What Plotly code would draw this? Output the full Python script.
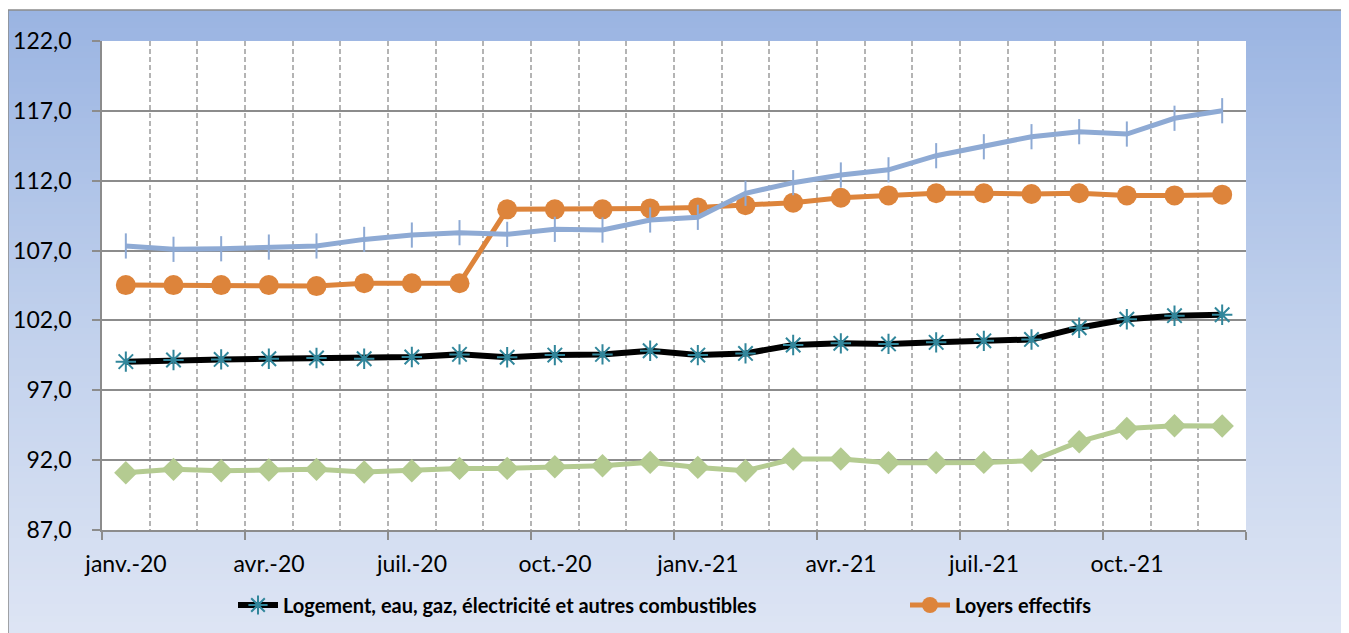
import plotly.graph_objects as go

months = [
    "janv.-20", "févr.-20", "mars-20", "avr.-20", "mai-20", "juin-20",
    "juil.-20", "août-20", "sept.-20", "oct.-20", "nov.-20", "déc.-20",
    "janv.-21", "févr.-21", "mars-21", "avr.-21", "mai-21", "juin-21",
    "juil.-21", "août-21", "sept.-21", "oct.-21", "nov.-21", "déc.-21",
]

logement = [
    99.05, 99.17, 99.21, 99.26, 99.31, 99.26, 99.38, 99.57, 99.36, 99.52, 99.57, 99.83,
    99.52, 99.64, 100.24, 100.36, 100.32, 100.43, 100.54, 100.64, 101.48, 102.08, 102.34, 102.41,
]
loyers = [
    104.53, 104.53, 104.53, 104.53, 104.46, 104.66, 104.66, 104.66, 109.95, 109.95, 109.95, 110.02,
    110.09, 110.24, 110.43, 110.78, 110.95, 111.10, 111.10, 111.05, 111.10, 110.95, 110.95, 111.00,
]
serie_bleue = [
    107.33, 107.09, 107.13, 107.25, 107.33, 107.80, 108.11, 108.28, 108.16, 108.52, 108.47, 109.19,
    109.38, 111.10, 111.86, 112.41, 112.78, 113.79, 114.43, 115.15, 115.51, 115.34, 116.47, 117.01,
]
serie_verte = [
    91.10, 91.34, 91.24, 91.29, 91.34, 91.15, 91.24, 91.41, 91.41, 91.53, 91.60, 91.84,
    91.48, 91.24, 92.08, 92.08, 91.82, 91.82, 91.84, 91.96, 93.32, 94.27, 94.46, 94.44,
]

x = list(range(len(months)))

# the page adds an 8px body margin, so everything is placed 8px up/left
OFF = 8
W, H = 1349 - OFF, 633 - OFF
L, R, T, B = 102 - OFF, 1246 - OFF, 41 - OFF, 530 - OFF


def px_x(p):
    return (p - OFF - L) / (R - L)


def px_y(p):
    return (B - (p - OFF)) / (B - T)


fig = go.Figure()

fig.add_trace(go.Scatter(
    x=x, y=logement, name="Logement, eau, gaz, électricité et autres combustibles",
    mode="lines+markers",
    line=dict(color="#000000", width=6),
    marker=dict(symbol="asterisk-open", size=17, color="#31869b",
                line=dict(color="#31869b", width=2)),
))
fig.add_trace(go.Scatter(
    x=x, y=loyers, name="Loyers effectifs", legend="legend2",
    mode="lines+markers",
    line=dict(color="#dd843b", width=5),
    marker=dict(symbol="circle", size=20, color="#dd843b"),
))
fig.add_trace(go.Scatter(
    x=x, y=serie_verte, name="Série 4", showlegend=False,
    mode="lines+markers",
    line=dict(color="#b4cb91", width=5),
    marker=dict(symbol="diamond", size=18, color="#b4cb91"),
))
fig.add_trace(go.Scatter(
    x=x, y=serie_bleue, name="Série 3", showlegend=False,
    mode="lines+markers",
    line=dict(color="#8eaad4", width=5),
    marker=dict(symbol="line-ns", size=18, color="#8eaad4",
                line=dict(color="#8eaad4", width=2)),
))

# background gradient of the chart area
stops = [(10, (154, 180, 226)), (320, (192, 208, 236)), (640, (222, 229, 244))]


def band_colour(p):
    for (p0, c0), (p1, c1) in zip(stops, stops[1:]):
        if p <= p1:
            t = (p - p0) / (p1 - p0)
            return "rgb(%d,%d,%d)" % tuple(round(a + (b - a) * t) for a, b in zip(c0, c1))
    return "rgb(%d,%d,%d)" % stops[-1][1]


shapes = []
step = 6
for top in range(10, 645, step):
    shapes.append(dict(
        type="rect", xref="paper", yref="paper", layer="below",
        x0=px_x(8), x1=px_x(1346), y0=px_y(top), y1=px_y(top + step + 1),
        fillcolor=band_colour(top + step / 2), line=dict(width=0),
    ))
shapes.append(dict(
    type="rect", xref="paper", yref="paper", layer="below",
    x0=px_x(8), x1=px_x(1346), y0=px_y(10), y1=px_y(660),
    line=dict(color="#8c8c8c", width=1.5),
))
# white plot area on top of the gradient
shapes.append(dict(
    type="rect", xref="paper", yref="paper", layer="below",
    x0=0, x1=1, y0=0, y1=1, fillcolor="white", line=dict(width=0),
))

boundaries = [i - 0.5 for i in range(0, len(months) + 1, 3)]
labels = [months[i] for i in range(0, len(months), 3)] + [""]

legend_style = dict(
    orientation="h", xanchor="left", yanchor="middle", y=px_y(605),
    font=dict(size=20, weight="bold"), bgcolor="rgba(0,0,0,0)",
    itemwidth=40,
)

fig.update_layout(
    width=W, height=H,
    margin=dict(l=L, r=W - R, t=T, b=H - B, pad=0, autoexpand=False),
    paper_bgcolor="white", plot_bgcolor="white",
    font=dict(family="Lato, Open Sans, sans-serif", size=23, color="#000000"),
    separators=", ",
    shapes=shapes,
    showlegend=True,
    legend=dict(x=px_x(233), **legend_style),
    legend2=dict(x=px_x(905), **legend_style),
)

fig.update_xaxes(
    range=[-0.5, len(months) - 0.5], automargin=False,
    tickmode="array", tickvals=boundaries, ticktext=labels,
    ticklabelshift=round((R - L) / len(months) / 2),
    ticks="outside", ticklen=8, tickwidth=1.5, tickcolor="#8c8c8c",
    ticklabelstandoff=5,
    showline=True, linecolor="#8c8c8c", linewidth=1.5,
    showgrid=True, gridcolor="#b4b4b4", gridwidth=2, griddash="5px,3px",
    minor=dict(tick0=-0.5, dtick=1, showgrid=True, gridcolor="#b4b4b4",
               gridwidth=2, griddash="5px,3px", ticks=""),
    zeroline=False,
)
fig.update_yaxes(
    range=[87, 122], tickmode="linear", tick0=87, dtick=5, tickformat=".1f",
    automargin=False,
    ticks="outside", ticklen=8, tickwidth=1.5, tickcolor="#8c8c8c",
    ticklabelstandoff=16,
    showline=True, linecolor="#8c8c8c", linewidth=1.5,
    showgrid=True, gridcolor="#8c8c8c", gridwidth=1.5,
    zeroline=False,
)

fig.write_html("out.html")
